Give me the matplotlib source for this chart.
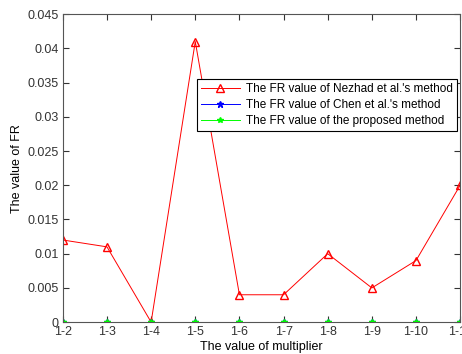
import matplotlib
matplotlib.use('Agg')
import matplotlib.pyplot as plt

plt.rcParams['font.family'] = ['Liberation Sans', 'DejaVu Sans']
plt.rcParams['font.size'] = 9

multipliers = ['1-2', '1-3', '1-4', '1-5', '1-6', '1-7', '1-8', '1-9', '1-10', '1-11']
fr_nezhad = [0.012, 0.011, 0.0, 0.041, 0.004, 0.004, 0.010, 0.005, 0.009, 0.020]
fr_chen = [0, 0, 0, 0, 0, 0, 0, 0, 0, 0]
fr_proposed = [0, 0, 0, 0, 0, 0, 0, 0, 0, 0]

x = list(range(len(multipliers)))

fig = plt.figure(figsize=(4.62, 3.54), dpi=100)
ax = fig.add_axes([0.136, 0.090, 0.860, 0.870])

ax.plot(x, fr_nezhad, color='red', lw=0.7, marker='^', mfc='none', ms=5.5,
        label="The FR value of Nezhad et al.'s method")
ax.plot(x, fr_chen, color='blue', lw=0.7, marker='*', ms=5,
        label="The FR value of Chen et al.'s method")
ax.plot(x, fr_proposed, color='#00ff00', lw=0.7, marker='*', ms=4,
        label="The FR value of the proposed method")

ax.set_xlim(0, 9)
ax.set_ylim(0, 0.045)
ax.set_xticks(x)
ax.set_xticklabels(multipliers)
ax.set_yticks([0, 0.005, 0.01, 0.015, 0.02, 0.025, 0.03, 0.035, 0.04, 0.045])
ax.set_yticklabels(['0', '0.005', '0.01', '0.015', '0.02', '0.025', '0.03', '0.035', '0.04', '0.045'])
ax.tick_params(direction='in', top=True, right=True, colors='#333333', length=4, pad=3)
for s in ax.spines.values():
    s.set_color('#555555')

ax.set_xlabel('The value of multiplier', labelpad=2)
ax.set_ylabel('The value of FR', labelpad=3)

leg = ax.legend(loc='upper left', bbox_to_anchor=(0.322, 0.81), fancybox=False,
                edgecolor='black', framealpha=1, borderpad=0.35, labelspacing=0.35,
                handlelength=3.3, handletextpad=0.5, fontsize=8.5)
leg.get_frame().set_linewidth(0.8)

plt.savefig('out.png', dpi=100)
